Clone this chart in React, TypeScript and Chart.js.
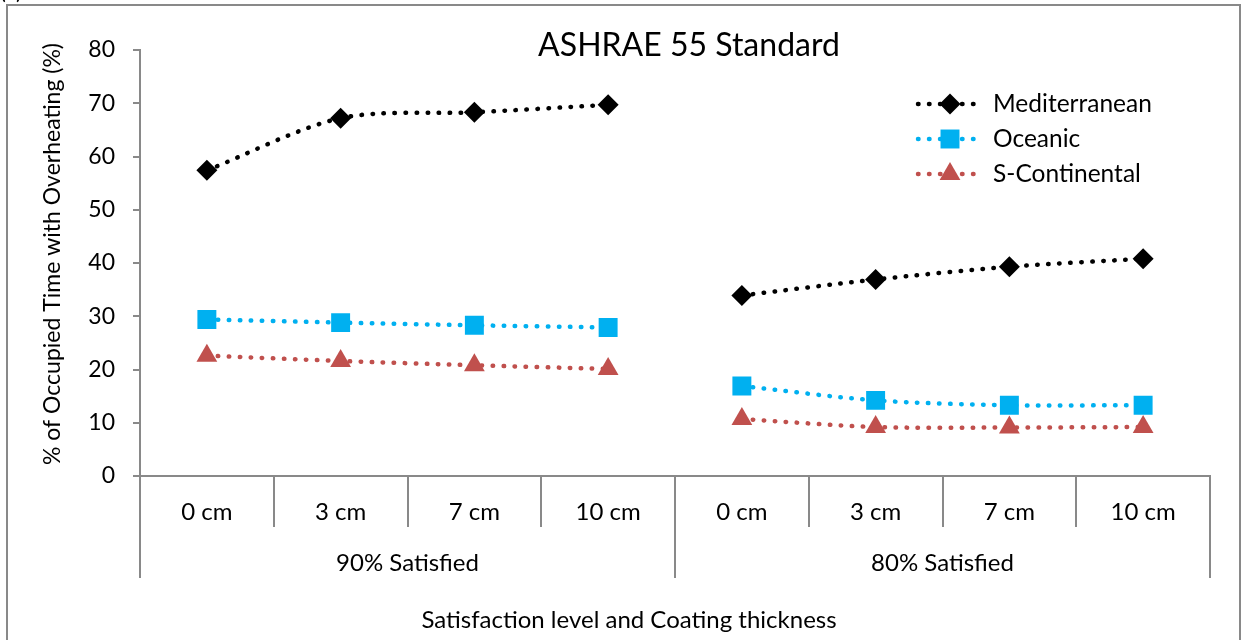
import React, { useEffect, useRef } from 'react';
import { Chart, registerables } from 'chart.js';

Chart.register(...registerables);

const categories = ['0 cm', '3 cm', '7 cm', '10 cm', '0 cm', '3 cm', '7 cm', '10 cm'];
const groupLabels = ['90% Satisfied', '80% Satisfied'];
const yTicks = [0, 10, 20, 30, 40, 50, 60, 70, 80];

const seriesNames = ['Mediterranean', 'Oceanic', 'S-Continental'];
const mediterranean90 = [57.4, 67.2, 68.3, 69.7];
const mediterranean80 = [33.9, 36.9, 39.3, 40.8];
const oceanic90 = [29.4, 28.8, 28.3, 27.9];
const oceanic80 = [16.9, 14.2, 13.3, 13.3];
const continental90 = [22.6, 21.6, 20.8, 20.1];
const continental80 = [10.7, 9.2, 9.1, 9.2];

const chartTitle = 'ASHRAE 55 Standard';
const yTitle = '% of Occupied Time with Overheating (%)';
const xTitle = 'Satisfaction level and Coating thickness';

const COLORS = ['#000000', '#00B0F0', '#C0504D'];
const STYLES: any[] = ['rectRot', 'rect', 'triangle'];
const RADII = [10.5, 13.4, 12];
const AXIS = '#898989';
const FONT = 'Lato, "Open Sans", sans-serif';

function makeDs(idx: number, data: (number | null)[]) {
  return {
    label: seriesNames[idx],
    data,
    borderColor: COLORS[idx],
    backgroundColor: COLORS[idx],
    borderWidth: 4.5,
    borderDash: [0.5, 10.5],
    borderCapStyle: 'round' as const,
    tension: 0.3,
    pointStyle: STYLES[idx],
    pointRadius: RADII[idx],
    pointHoverRadius: RADII[idx],
    pointBorderWidth: 0,
    pointBackgroundColor: COLORS[idx],
    spanGaps: false,
  };
}

function drawMarker(ctx: CanvasRenderingContext2D, style: string, r: number, x: number, y: number) {
  ctx.beginPath();
  if (style === 'rectRot') {
    ctx.moveTo(x, y - r);
    ctx.lineTo(x + r, y);
    ctx.lineTo(x, y + r);
    ctx.lineTo(x - r, y);
  } else if (style === 'rect') {
    const s = r * Math.SQRT1_2;
    ctx.rect(x - s, y - s, 2 * s, 2 * s);
  } else {
    ctx.moveTo(x, y - r);
    ctx.lineTo(x + r * Math.sin(Math.PI / 3), y + r / 2);
    ctx.lineTo(x - r * Math.sin(Math.PI / 3), y + r / 2);
  }
  ctx.closePath();
  ctx.fill();
}

const decor = {
  id: 'decor',
  afterDraw(chart: any) {
    const ctx = chart.ctx;
    const area = chart.chartArea;
    const xs = chart.scales.x;
    ctx.save();
    // frame
    ctx.strokeStyle = AXIS;
    ctx.lineWidth = 2;
    ctx.beginPath();
    ctx.moveTo(7, 660);
    ctx.lineTo(7, 5);
    ctx.lineTo(1240, 5);
    ctx.lineTo(1240, 660);
    ctx.stroke();

    ctx.fillStyle = '#000';
    ctx.font = `22px ${FONT}`;
    ctx.textAlign = 'left';
    ctx.textBaseline = 'alphabetic';
    ctx.fillText('(a)', 0, -1);

    // title
    ctx.textAlign = 'center';
    ctx.textBaseline = 'middle';
    ctx.font = `32px ${FONT}`;
    ctx.fillText(chartTitle, 689, 46);

    // y title
    ctx.save();
    ctx.translate(53, 254);
    ctx.rotate(-Math.PI / 2);
    ctx.font = `23px ${FONT}`;
    ctx.fillText(yTitle, 0, 0);
    ctx.restore();

    // category separators
    const n = categories.length;
    const bounds: number[] = [];
    for (let i = 0; i <= n; i++) {
      if (i === 0) bounds.push(area.left);
      else if (i === n) bounds.push(area.right);
      else bounds.push((xs.getPixelForValue(i - 1) + xs.getPixelForValue(i)) / 2);
    }
    ctx.strokeStyle = AXIS;
    ctx.lineWidth = 2;
    bounds.forEach((bx, i) => {
      const isGroup = i % 4 === 0;
      ctx.beginPath();
      ctx.moveTo(Math.round(bx), area.bottom);
      ctx.lineTo(Math.round(bx), area.bottom + (isGroup ? 102 : 51));
      ctx.stroke();
    });

    ctx.fillStyle = '#000';
    ctx.font = `24px ${FONT}`;
    categories.forEach((c, i) => {
      ctx.fillText(c, xs.getPixelForValue(i), area.bottom + 36);
    });
    groupLabels.forEach((g, gi) => {
      const cx = (bounds[gi * 4] + bounds[gi * 4 + 4]) / 2;
      ctx.fillText(g, cx, area.bottom + 87);
    });
    ctx.fillText(xTitle, 629, 620);

    // legend
    const rows = [104, 139, 174];
    rows.forEach((ry, i) => {
      ctx.save();
      ctx.strokeStyle = COLORS[i];
      ctx.lineWidth = 4.5;
      ctx.lineCap = 'round';
      ctx.setLineDash([0.5, 10.5]);
      ctx.beginPath();
      ctx.moveTo(918, ry);
      ctx.lineTo(982, ry);
      ctx.stroke();
      ctx.restore();
      ctx.fillStyle = COLORS[i];
      drawMarker(ctx, STYLES[i], RADII[i], 950, ry);
      ctx.fillStyle = '#000';
      ctx.textAlign = 'left';
      ctx.font = `24.5px ${FONT}`;
      ctx.fillText(seriesNames[i], 993, ry);
      ctx.textAlign = 'center';
    });
    ctx.restore();
  },
};

export default function App() {
  const ref = useRef<HTMLCanvasElement | null>(null);
  useEffect(() => {
    if (!ref.current) return;
    const chart = new Chart(ref.current, {
      type: 'line',
      data: {
        labels: categories,
        datasets: [
          makeDs(0, [...mediterranean90, null, null, null, null]),
          makeDs(1, [...oceanic90, null, null, null, null]),
          makeDs(2, [...continental90, null, null, null, null]),
          makeDs(0, [null, null, null, null, ...mediterranean80]),
          makeDs(1, [null, null, null, null, ...oceanic80]),
          makeDs(2, [null, null, null, null, ...continental80]),
        ],
      },
      options: {
        responsive: false,
        animation: false,
        layout: { padding: { top: 50, right: 32, left: 0, bottom: 0 } },
        plugins: { legend: { display: false }, title: { display: false }, tooltip: { enabled: false } },
        scales: {
          x: {
            type: 'category',
            offset: true,
            grid: { display: false },
            ticks: { display: false },
            border: { display: true, color: AXIS, width: 2 },
            afterFit: (s: any) => { s.height = 164; },
          },
          y: {
            min: yTicks[0],
            max: yTicks[yTicks.length - 1],
            afterBuildTicks: (s: any) => { s.ticks = yTicks.map((v) => ({ value: v })); },
            ticks: { color: '#000', font: { family: FONT, size: 23 }, padding: 18 },
            grid: { drawOnChartArea: false, drawTicks: true, tickLength: 7, color: AXIS, lineWidth: 2 },
            border: { display: true, color: AXIS, width: 2 },
            afterFit: (s: any) => { s.width = 140; },
          },
        },
      },
      plugins: [decor],
    });
    return () => chart.destroy();
  }, []);
  return (
    <div style={{ position: 'absolute', left: 0, top: 0, width: 1242, height: 640, background: '#fff' }}>
      <canvas ref={ref} width={1242} height={640} />
    </div>
  );
}
